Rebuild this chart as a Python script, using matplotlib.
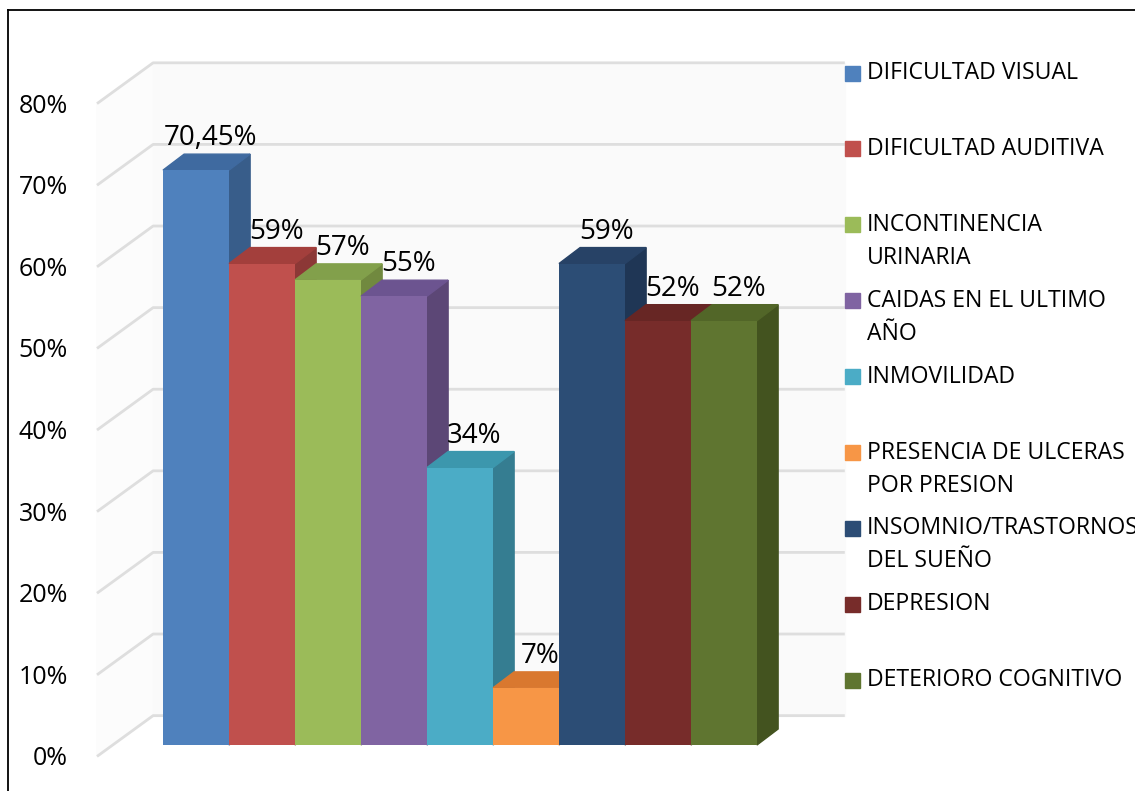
import matplotlib.pyplot as plt
from matplotlib.patches import Rectangle

plt.rcParams['font.family'] = ['Open Sans', 'DejaVu Sans']

categories = ["DIFICULTAD VISUAL", "DIFICULTAD AUDITIVA", "INCONTINENCIA\nURINARIA",
              "CAIDAS EN EL ULTIMO\nAÑO", "INMOVILIDAD", "PRESENCIA DE ULCERAS\nPOR PRESION",
              "INSOMNIO/TRASTORNOS\nDEL SUEÑO", "DEPRESION", "DETERIORO COGNITIVO"]
values = [70.45, 59, 57, 55, 34, 7, 59, 52, 52]
labels = ["70,45%", "59%", "57%", "55%", "34%", "7%", "59%", "52%", "52%"]
ticks = [0, 10, 20, 30, 40, 50, 60, 70, 80]

front = ["#4F81BD", "#C0504D", "#9BBB59", "#8064A2", "#4BACC6",
         "#F79646", "#2C4D75", "#772C2A", "#5F7530"]
side = ["#385D8A", "#8C3836", "#71893F", "#5C4776", "#357D91",
        "#B66D31", "#1F3655", "#531F1D", "#43531F"]
top = ["#3F6AA0", "#A33F3C", "#82A04B", "#6C5490", "#3C97AD",
       "#D9782F", "#274266", "#672624", "#526628"]

W, H = 1135, 791
fig = plt.figure(figsize=(W / 100, H / 100), dpi=100)
ax = fig.add_axes([0, 0, 1, 1])
# 1 x unit = 66 px (one bar), 1 % = 8.16 px, bar base at y=745 px
ax.set_xlim(-163 / 66, (W - 163) / 66)
ax.set_ylim((745 - H) / 8.16, 745 / 8.16)
ax.axis('off')

dx, dy = 0.32, 1.96        # bar depth
wall_x0, wall_x1 = -0.15, 10.33
side_x0 = -1.0

# walls
ax.fill([side_x0, wall_x0, wall_x0, side_x0], [-1.4, 3.6, 83.6, 78.6], color="#fcfcfc", zorder=0)
ax.fill([wall_x0, wall_x1, wall_x1, wall_x0], [3.6, 3.6, 83.6, 83.6], color="#fafafa", zorder=0)

for t in ticks:
    ax.plot([side_x0, wall_x0, wall_x1], [t - 1.4, t + 3.6, t + 3.6],
            color="#dedede", lw=2, zorder=1, solid_capstyle='butt')
    ax.text((68 - 163) / 66, t - 1.7, f"{t}%", ha='right', va='center',
            fontsize=18, color="black")

# bars with pseudo 3D faces
for i, v in enumerate(values):
    x0, x1 = i, i + 1
    ax.fill([x1, x1 + dx, x1 + dx, x1], [0, dy, v + dy, v], color=side[i], zorder=3 + 2 * i)
    ax.fill([x0, x1, x1 + dx, x0 + dx], [v, v, v + dy, v + dy], color=top[i], zorder=3 + 2 * i)
    ax.bar(x0, v, width=1, align='edge', color=front[i], zorder=4 + 2 * i, linewidth=0)
    ax.text(i + 0.5 + 0.22, v + 3.9, labels[i], ha='center', va='center',
            fontsize=20, color="black", zorder=30)

# legend
for i, (name, c) in enumerate(zip(categories, front)):
    yc = 73 + i * 75.9
    fig.add_artist(Rectangle((845 / W, 1 - (yc + 7.5) / H), 15 / W, 15 / H,
                             transform=fig.transFigure, color=c))
    for j, line in enumerate(name.split("\n")):
        fig.text(867 / W, 1 - (yc + j * 33) / H, line, ha='left', va='center',
                 fontsize=16.6, color="black")

# outer frame
fig.add_artist(plt.Line2D([8 / W, 8 / W], [0, 1 - 10 / H], color="black", lw=1.3,
                          transform=fig.transFigure))
fig.add_artist(plt.Line2D([8 / W, 1], [1 - 10 / H, 1 - 10 / H], color="black", lw=1.3,
                          transform=fig.transFigure))

fig.savefig("out.png", dpi=100)
